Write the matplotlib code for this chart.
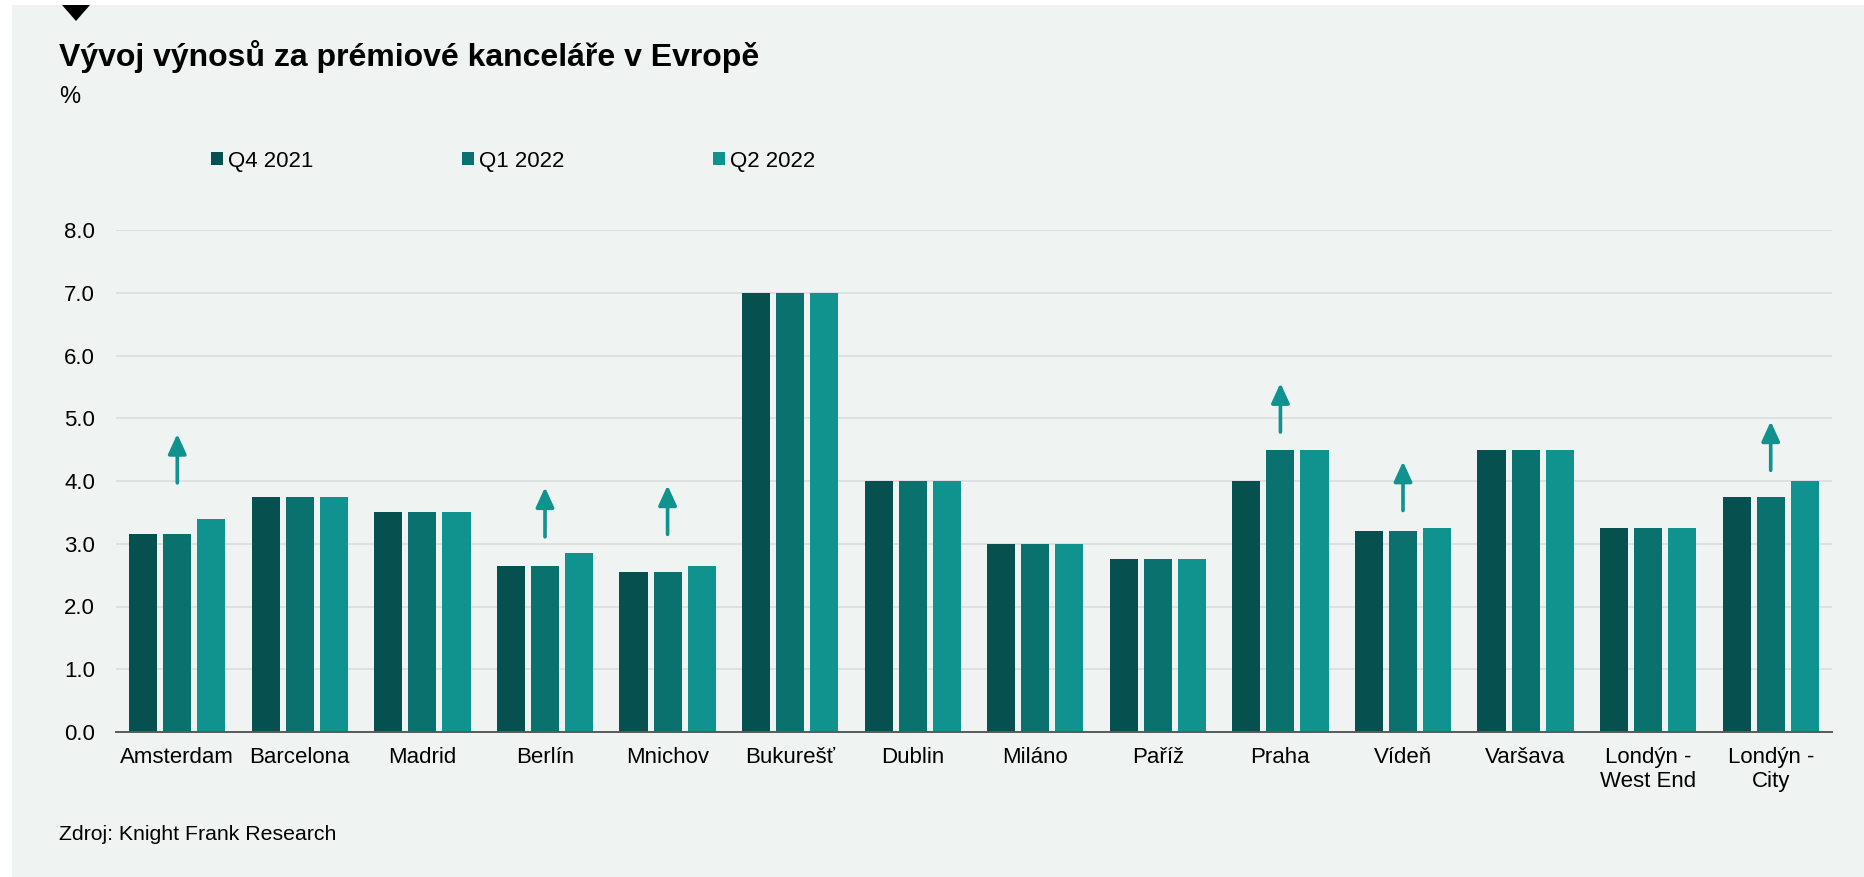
import matplotlib.pyplot as plt
from matplotlib.patches import Rectangle, Polygon
import numpy as np

plt.rcParams['font.family'] = ['Liberation Sans', 'DejaVu Sans']

cities = ['Amsterdam', 'Barcelona', 'Madrid', 'Berlín', 'Mnichov', 'Bukurešť',
          'Dublin', 'Miláno', 'Paříž', 'Praha', 'Vídeň', 'Varšava',
          'Londýn -\nWest End', 'Londýn -\nCity']
q4_2021 = [3.15, 3.75, 3.5, 2.65, 2.55, 7.0, 4.0, 3.0, 2.75, 4.0, 3.2, 4.5, 3.25, 3.75]
q1_2022 = [3.15, 3.75, 3.5, 2.65, 2.55, 7.0, 4.0, 3.0, 2.75, 4.5, 3.2, 4.5, 3.25, 3.75]
q2_2022 = [3.4, 3.75, 3.5, 2.85, 2.65, 7.0, 4.0, 3.0, 2.75, 4.5, 3.25, 4.5, 3.25, 4.0]
series_labels = ['Q4 2021', 'Q1 2022', 'Q2 2022']
yticks = np.arange(0, 8.01, 1.0)

# cities with rising yields get an arrow above the group (tail, tip)
up_arrows = {
    'Amsterdam': (3.97, 4.75),
    'Berlín': (3.11, 3.90),
    'Mnichov': (3.15, 3.93),
    'Praha': (4.78, 5.56),
    'Vídeň': (3.53, 4.31),
    'Londýn -\nCity': (4.17, 4.95),
}

colors = ['#06504f', '#0a716e', '#10928e']
bg = '#eff3f2'

fig = plt.figure(figsize=(18.65, 8.77), dpi=100)
fig.patch.set_facecolor('white')
fig.patches.append(Rectangle((12 / 1865, 0), 1 - 12 / 1865, 1 - 5 / 877,
                             transform=fig.transFigure, facecolor=bg,
                             edgecolor='none', zorder=-10))

# small black marker at the top left
fig.patches.append(Polygon([(62 / 1865, 1 - 5 / 877), (90 / 1865, 1 - 5 / 877),
                            (76 / 1865, 1 - 21 / 877)], closed=True,
                           transform=fig.transFigure, facecolor='black',
                           edgecolor='none'))

ax = fig.add_axes([116 / 1865, 1 - 732 / 877, (1832 - 116) / 1865, (732 - 230) / 877])
ax.set_facecolor(bg)

x = np.arange(len(cities))
width = 0.229
step = 0.278
for i, (vals, color, label) in enumerate(zip([q4_2021, q1_2022, q2_2022], colors, series_labels)):
    ax.bar(x + (i - 1) * step, vals, width, color=color, label=label, zorder=3)

for city, (tail, tip) in up_arrows.items():
    xi = cities.index(city)
    ax.annotate('', xy=(xi, tip), xytext=(xi, tail),
                arrowprops=dict(arrowstyle='-|>,head_length=1.2,head_width=0.55',
                                color=colors[2], lw=2.6, shrinkA=0, shrinkB=0),
                zorder=4)

ax.set_xlim(-0.5, len(cities) - 0.5)
ax.set_ylim(0, 8)
ax.set_yticks(yticks)
ax.set_yticklabels([f'{v:.1f}' for v in yticks], fontsize=16)
ax.set_xticks(x)
ax.set_xticklabels(cities, fontsize=16, linespacing=1.15)
ax.tick_params(axis='both', length=0, colors='black')
ax.tick_params(axis='y', pad=15)
ax.tick_params(axis='x', pad=11)
ax.grid(axis='y', color='#d9dddc', lw=1.2, zorder=0)
for side in ['top', 'right', 'left']:
    ax.spines[side].set_visible(False)
ax.spines['bottom'].set_color('#595959')
ax.spines['bottom'].set_linewidth(1.4)
ax.spines['bottom'].set_zorder(5)

fig.text(59 / 1865, 1 - 57 / 877, 'Vývoj výnosů za prémiové kanceláře v Evropě',
         fontsize=23, fontweight='bold', va='center', ha='left')
fig.text(59 / 1865, 1 - 97 / 877, '%', fontsize=17, va='center', ha='left')
fig.text(59 / 1865, 1 - 834 / 877, 'Zdroj: Knight Frank Research',
         fontsize=15.3, va='center', ha='left')

leg = fig.legend(loc='center left', bbox_to_anchor=(191 / 1865, 1 - 161 / 877),
                 ncol=3, frameon=False, fontsize=16, handlelength=0.55,
                 handleheight=0.55, handletextpad=0.2, columnspacing=6.7)

fig.savefig('out.png', dpi=100, facecolor=fig.get_facecolor())
